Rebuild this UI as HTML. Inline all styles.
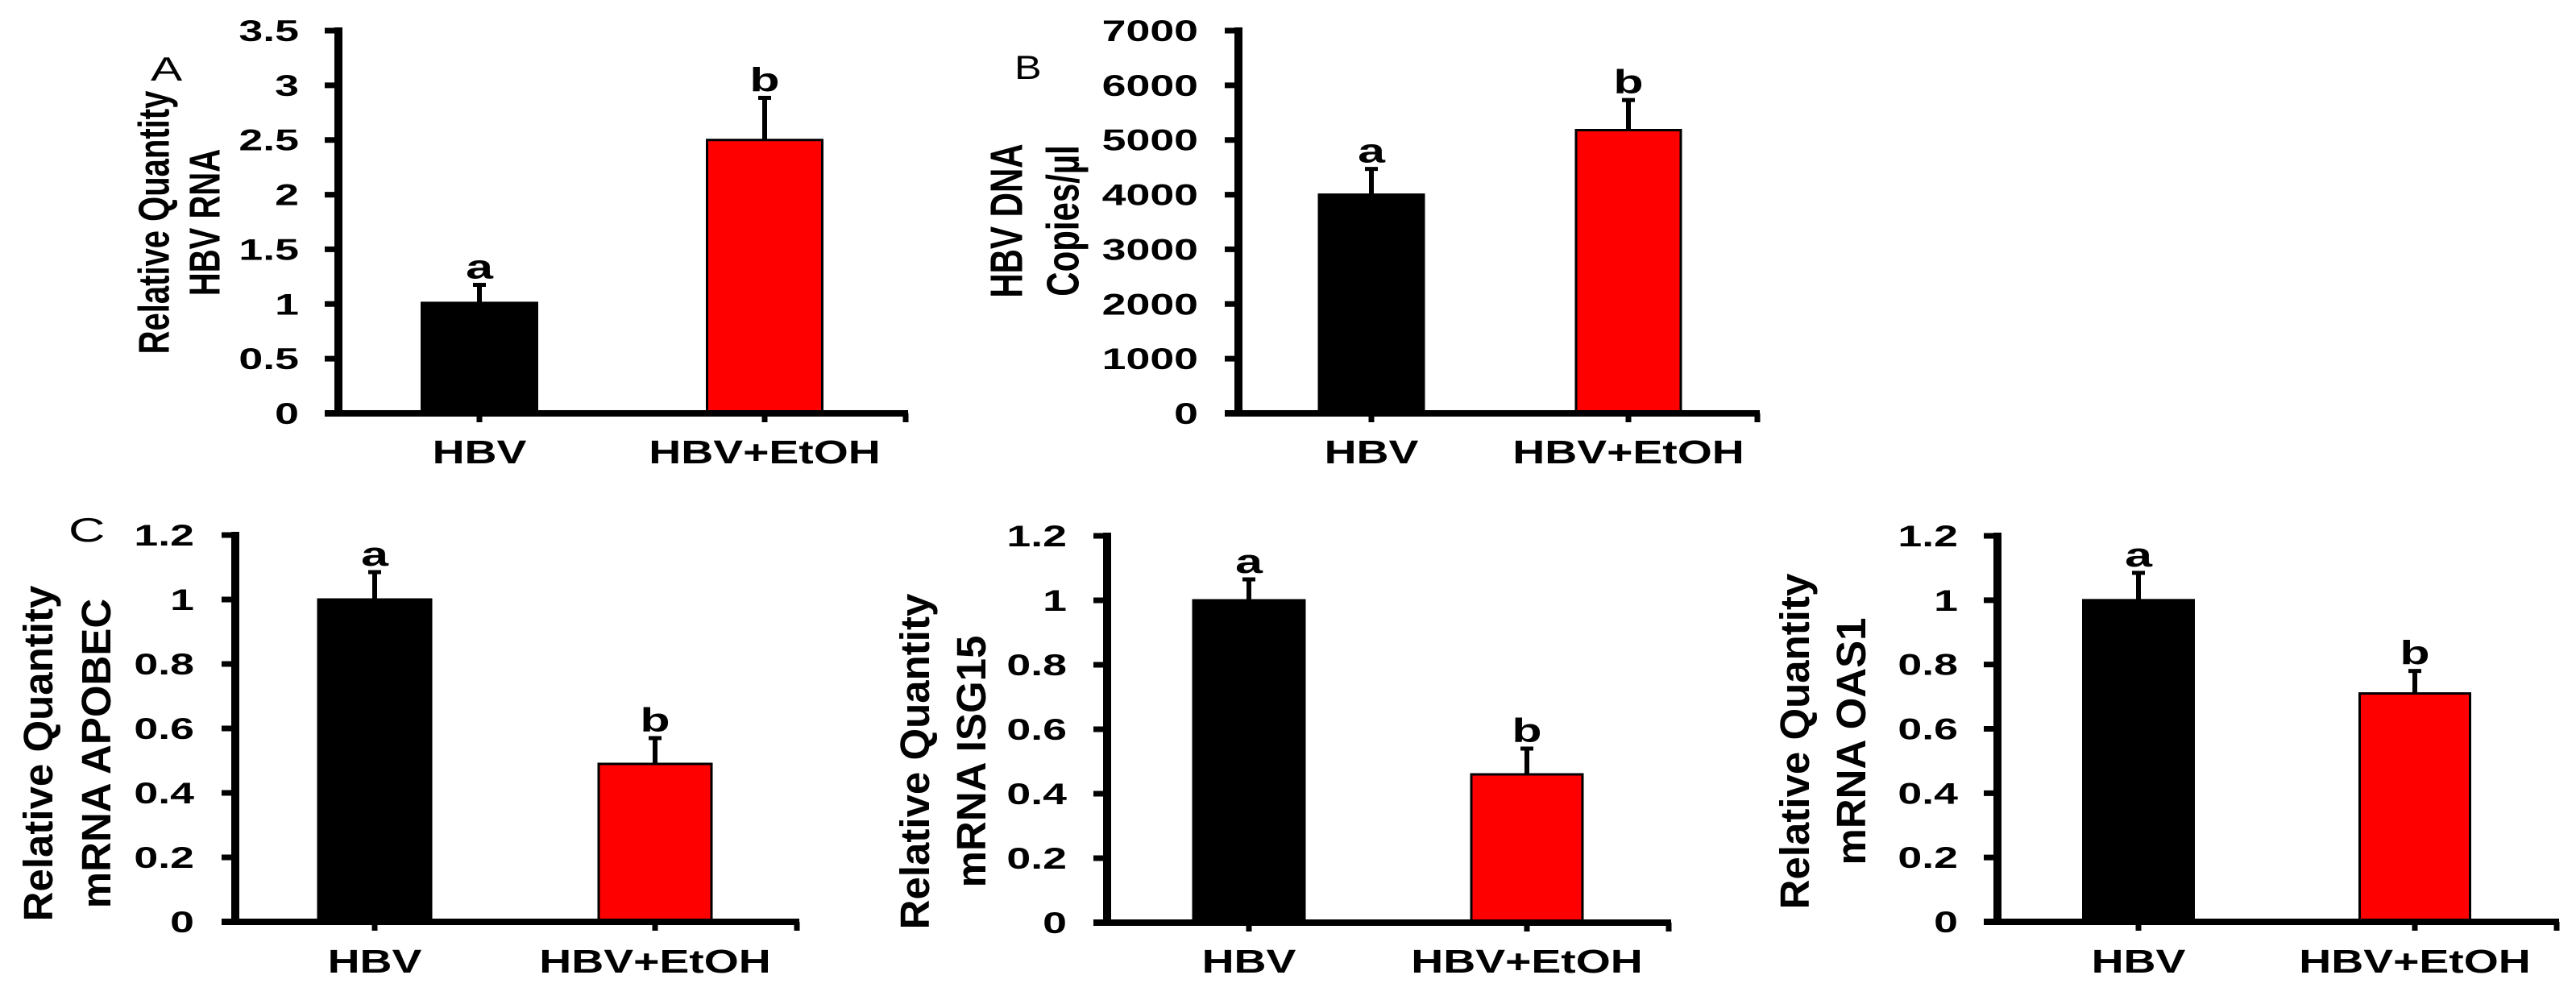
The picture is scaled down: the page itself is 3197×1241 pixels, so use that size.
<!DOCTYPE html>
<html><head><meta charset="utf-8"><style>
html,body{margin:0;padding:0;background:#fff;}
svg{display:block;font-family:"Liberation Sans",Arial,sans-serif;}
</style></head><body>
<svg id="fig" width="3197" height="1241" viewBox="0 0 3197 1241" xmlns="http://www.w3.org/2000/svg"></svg>
<script>
// ---- data ----
const categories = ["HBV", "HBV+EtOH"];
const sigLetters = ["a", "b"];
const hbvRnaValues = [1.01, 2.5];
const hbvRnaErrors = [0.18, 0.40];
const hbvRnaTicks = [0, 0.5, 1, 1.5, 2, 2.5, 3, 3.5];
const hbvDnaValues = [4000, 5180];
const hbvDnaErrors = [500, 580];
const hbvDnaTicks = [0, 1000, 2000, 3000, 4000, 5000, 6000, 7000];
const apobecValues = [1.0, 0.49];
const apobecErrors = [0.09, 0.085];
const isg15Values = [1.0, 0.46];
const isg15Errors = [0.07, 0.085];
const oas1Values = [1.0, 0.71];
const oas1Errors = [0.09, 0.075];
const mrnaTicks = [0, 0.2, 0.4, 0.6, 0.8, 1, 1.2];

// ---- layout ----
const panels = [
  {id:"hbv-rna", values:hbvRnaValues, errors:hbvRnaErrors, ticks:hbvRnaTicks, max:3.5,
   ax:420, y0:513, yTop:38, xEnd:1124, c0:595, gap:354, bw:143, labelRight:371, catY:575,
   titles:[["Relative Quantity",189],["HBV RNA",252]], titleY:276, tf:40, tsx:1.35,
   letter:"A", lx:187, ly:100, lsx:1.4},
  {id:"hbv-dna", values:hbvDnaValues, errors:hbvDnaErrors, ticks:hbvDnaTicks, max:7000,
   ax:1537, y0:513, yTop:38, xEnd:2181, c0:1702, gap:319, bw:130, labelRight:1487, catY:575,
   titles:[["HBV DNA",1248],["Copies/\u00b5l",1318]], titleY:274, tf:42, tsx:1.35,
   letter:"B", lx:1259, ly:98, lsx:1.2},
  {id:"apobec", values:apobecValues, errors:apobecErrors, ticks:mrnaTicks, max:1.2,
   ax:292, y0:1144, yTop:664, xEnd:989, c0:465, gap:348, bw:140, labelRight:241, catY:1207,
   titles:[["Relative Quantity",50],["mRNA APOBEC",122]], titleY:935, tf:51, tsx:1,
   letter:"C", lx:85, ly:672, lsx:1.5},
  {id:"isg15", values:isg15Values, errors:isg15Errors, ticks:mrnaTicks, max:1.2,
   ax:1374, y0:1145, yTop:665, xEnd:2071, c0:1550, gap:345, bw:138, labelRight:1324, catY:1207,
   titles:[["Relative Quantity",1138],["mRNA ISG15",1208]], titleY:945, tf:51, tsx:1},
  {id:"oas1", values:oas1Values, errors:oas1Errors, ticks:mrnaTicks, max:1.2,
   ax:2479, y0:1144, yTop:665, xEnd:3173, c0:2654, gap:343, bw:137, labelRight:2430, catY:1207,
   titles:[["Relative Quantity",2230],["mRNA OAS1",2300]], titleY:920, tf:51, tsx:1}
];

const NS = "http://www.w3.org/2000/svg";
const svg = document.getElementById("fig");
function mk(tag, attrs, parent){
  const e = document.createElementNS(NS, tag);
  for (const k in attrs) e.setAttribute(k, attrs[k]);
  (parent || svg).appendChild(e);
  return e;
}
function fmt(v){ return String(v); }

panels.forEach(p => {
  const g = mk("g", {});
  
  
  const yS = v => p.y0 - (v / p.max) * (p.y0 - p.yTop);
  const xC = i => p.c0 + i * p.gap;

  p.values.forEach((v, i) => {
    const top = yS(v);
    const r = mk("rect", {x: xC(i) - p.bw/2, y: top, width: p.bw, height: p.y0 - top,
      fill: i === 0 ? "#000" : "#ff0000", stroke: "#000", "stroke-width": 3}, g);
    
    
    const et = yS(v + p.errors[i]);
    const el = mk("line", {x1: xC(i), x2: xC(i), y1: top, y2: et, stroke: "#000", "stroke-width": 6}, g);
    
    
    const ec = mk("line", {x1: xC(i) - 8, x2: xC(i) + 8, y1: et + 2, y2: et + 2, stroke: "#000", "stroke-width": 5}, g);
    
    
    const lt = mk("text", {transform: "translate(" + xC(i) + "," + (et - 6) + ") scale(1.45,1)",
      "text-anchor": "middle", "font-size": 42, "font-weight": "bold", fill: "#000"}, g);
    lt.textContent = sigLetters[i];
    
    
    const ct = mk("text", {transform: "translate(" + xC(i) + "," + p.catY + ") scale(1.35,1)",
      "text-anchor": "middle", "font-size": 41, "font-weight": "bold", fill: "#000"}, g);
    ct.textContent = categories[i];
    
    
    const xt = mk("line", {x1: xC(i), x2: xC(i), y1: p.y0, y2: p.y0 + 11, stroke: "#000", "stroke-width": 7}, g);
    
    
  });

  const ya = mk("line", {x1: p.ax, x2: p.ax, y1: p.yTop - 4, y2: p.y0 + 4, stroke: "#000", "stroke-width": 10}, g);
  
  
  const xa = mk("line", {x1: p.ax - 17, x2: p.xEnd + 3, y1: p.y0, y2: p.y0, stroke: "#000", "stroke-width": 8}, g);
  
  
  const et = mk("line", {x1: p.xEnd, x2: p.xEnd, y1: p.y0, y2: p.y0 + 11, stroke: "#000", "stroke-width": 7}, g);
  
  

  p.ticks.forEach(t => {
    const y = yS(t);
    const tk = mk("line", {x1: p.ax - 17, x2: p.ax, y1: y, y2: y, stroke: "#000", "stroke-width": 7}, g);
    
    
    const tl = mk("text", {transform: "translate(" + p.labelRight + "," + (y + 13) + ") scale(1.45,1)",
      "text-anchor": "end", "font-size": 37, "font-weight": "bold", fill: "#000"}, g);
    tl.textContent = fmt(t);
    
    
  });

  p.titles.forEach(tt => {
    const ti = mk("text", {transform: "translate(" + tt[1] + "," + p.titleY + ") scale(" + p.tsx + ",1) rotate(-90)",
      y: 15, "text-anchor": "middle", "font-size": p.tf, "font-weight": "bold", fill: "#000"}, g);
    ti.textContent = tt[0];
    
    
  });

  if (p.letter) {
    const pl = mk("text", {transform: "translate(" + p.lx + "," + p.ly + ") scale(" + p.lsx + ",1)",
      "font-size": 42, fill: "#000"}, g);
    pl.textContent = p.letter;
    
    
  }
});
</script>
</body></html>
